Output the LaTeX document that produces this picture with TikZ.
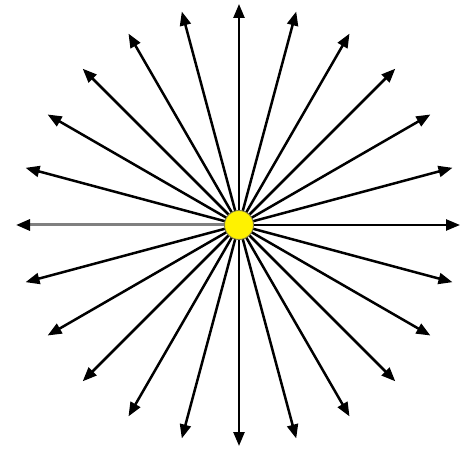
\documentclass[tikz,border=0pt]{standalone}
\usetikzlibrary{arrows.meta,calc}
\begin{document}
\begin{tikzpicture}[x=1pt,y=1pt,
  ray/.style={line width=2.5pt,-{Triangle[length=14pt,width=11pt,color=black]}},
  hub/.style={circle,fill=yellow,draw=black!55!yellow,line width=0.9pt,minimum size=29pt,inner sep=0pt}]
\useasboundingbox (0,0) rectangle (462,449);
\coordinate (o) at (239,224);
\foreach \a in {0,15,...,165,195,210,...,345}{
  \coordinate (t\a) at ($(o)+(\a:221)$);
}
\foreach \a in {0,15,...,165,195,210,...,345}{
  \draw[ray] (o) -- (t\a);
}
\coordinate (t180) at (16,224);
\draw[ray,line width=3pt,draw=black!50] (o) -- (t180);
\node[hub] (c) at (o) {};
\end{tikzpicture}
\end{document}
